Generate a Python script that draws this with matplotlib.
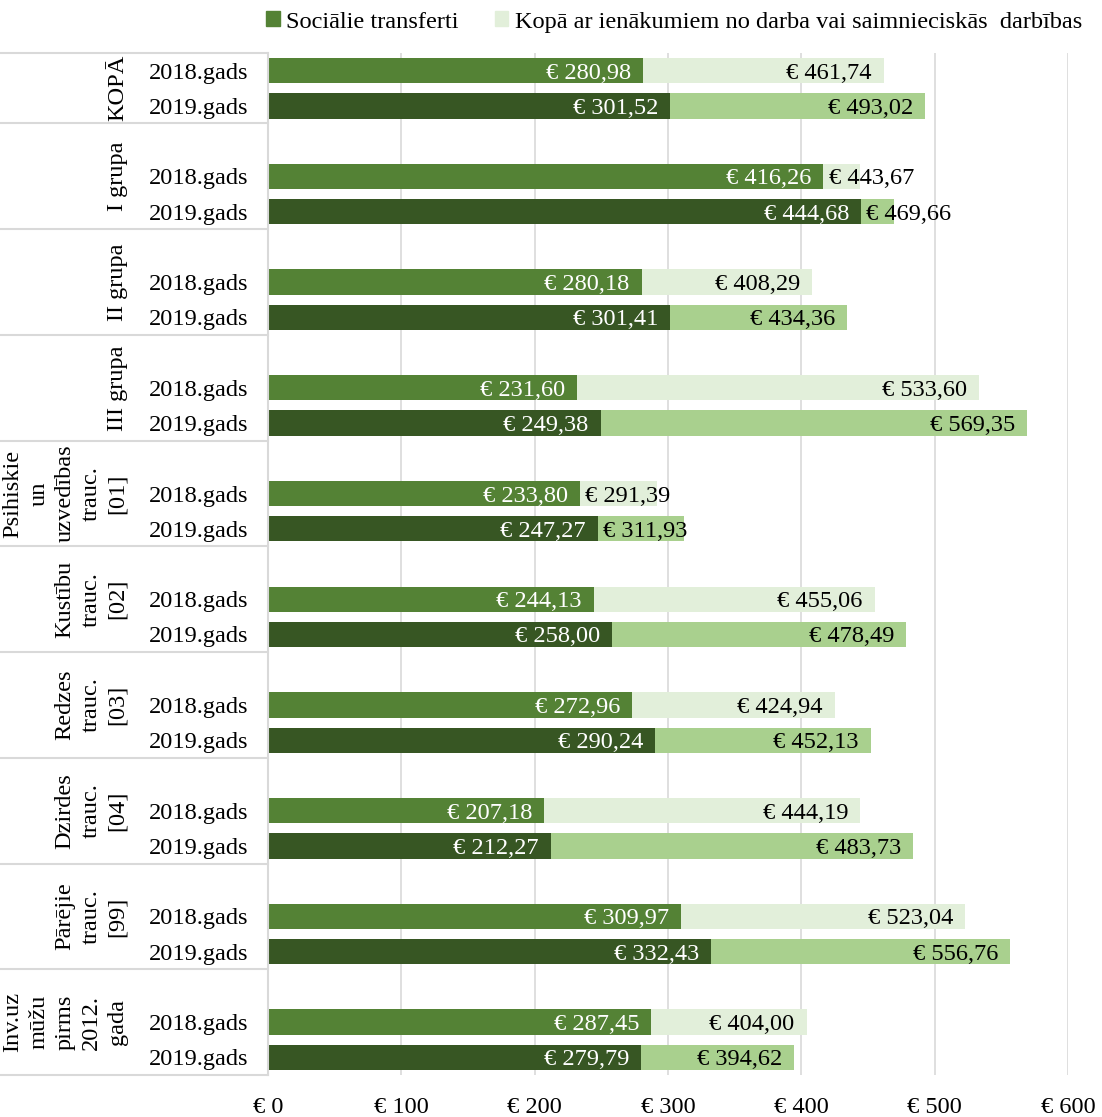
import numpy as np
import matplotlib.pyplot as plt
from matplotlib.patches import Patch
from matplotlib.lines import Line2D
from matplotlib.ticker import FuncFormatter
from matplotlib.transforms import blended_transform_factory

groups = ["KOPĀ", "I grupa", "II grupa", "III grupa",
          "Psihiskie\nun\nuzvedības\ntrauc.\n[01]",
          "Kustību\ntrauc.\n[02]", "Redzes\ntrauc.\n[03]", "Dzirdes\ntrauc.\n[04]",
          "Pārējie\ntrauc.\n[99]", "Inv.uz\nmūžu\npirms\n2012.\ngada"]
years = ["2018.gads", "2019.gads"]
soc_2018 = [280.98, 416.26, 280.18, 231.60, 233.80, 244.13, 272.96, 207.18, 309.97, 287.45]
tot_2018 = [461.74, 443.67, 408.29, 533.60, 291.39, 455.06, 424.94, 444.19, 523.04, 404.00]
soc_2019 = [301.52, 444.68, 301.41, 249.38, 247.27, 258.00, 290.24, 212.27, 332.43, 279.79]
tot_2019 = [493.02, 469.66, 434.36, 569.35, 311.93, 478.49, 452.13, 483.73, 556.76, 394.62]
legend_labels = ["Sociālie transferti", "Kopā ar ienākumiem no darba vai saimnieciskās  darbības"]

soc_colors = ["#548235", "#375623"]
tot_colors = ["#E2EFDA", "#A9D08E"]
grid_col = "#D9D9D9"

plt.rcParams['font.family'] = ['Liberation Serif', 'DejaVu Serif']
FS = 17.6

W, H = 1102, 1117
fig = plt.figure(figsize=(W / 100, H / 100), dpi=100)
ax = fig.add_axes([268 / W, 1 - 1075 / H, 800 / W, (1075 - 53) / H])

def eur(v):
    return f"€ {v:.2f}".replace(".", ",")

n = len(groups)
bh = 0.72
ticks, tick_labels = [], []
for yi, (soc, tot) in enumerate([(soc_2018, tot_2018), (soc_2019, tot_2019)]):
    pos = np.arange(n) * 3 + 1.5 + yi
    ax.barh(pos, tot, height=bh, color=tot_colors[yi], zorder=2)
    ax.barh(pos, soc, height=bh, color=soc_colors[yi], zorder=3)
    for p, s, t in zip(pos, soc, tot):
        ax.annotate(eur(s), (s, p), xytext=(-8.6, 0), textcoords="offset points",
                    ha="right", va="center_baseline", color="white", fontsize=FS, zorder=4)
        if t - s < 90:
            ax.annotate(eur(t), (s, p), xytext=(4, 0), textcoords="offset points",
                        ha="left", va="center_baseline", color="black", fontsize=FS, zorder=4)
        else:
            ax.annotate(eur(t), (t, p), xytext=(-8.6, 0), textcoords="offset points",
                        ha="right", va="center_baseline", color="black", fontsize=FS, zorder=4)
    ticks += list(pos)
    tick_labels += [years[yi]] * n

ax.set_yticks(ticks)
ax.set_yticklabels(tick_labels, fontsize=FS)
ax.tick_params(axis="y", length=0, pad=14)
ax.set_ylim(30, 1)
ax.set_xlim(0, 600)
ax.set_xticks(range(0, 601, 100))
ax.xaxis.set_major_formatter(FuncFormatter(lambda v, _: f"€ {int(v)}"))
ax.tick_params(axis="x", length=0, pad=16, labelsize=FS)
ax.grid(axis="x", color=grid_col, linewidth=1.2, zorder=0)
ax.set_axisbelow(True)
for sp in ax.spines.values():
    sp.set_visible(False)

# category table on the left
tr = blended_transform_factory(fig.transFigure, ax.transData)
for y in [1] + [3 * (g + 1) for g in range(n)]:
    fig.add_artist(Line2D([0, 268 / W], [y, y], transform=tr, color=grid_col, linewidth=1.5))
fig.add_artist(Line2D([268 / W, 268 / W], [1, 30], transform=tr, color=grid_col, linewidth=1.5))

for g, name in enumerate(groups):
    yc = 2 if g == 0 else 3 * g + 1.5
    ax.text(-140 / 800, yc, name, transform=ax.get_yaxis_transform(), rotation=90,
            ha="right", va="center", multialignment="center", fontsize=FS, linespacing=1.32)

handles = [Patch(color=soc_colors[0]), Patch(color=tot_colors[0])]
fig.legend(handles, legend_labels, loc="center", bbox_to_anchor=(674 / W, 1 - 22 / H), ncol=2,
           frameon=False, fontsize=FS, handlelength=0.55, handleheight=0.55,
           handletextpad=0.25, columnspacing=1.5)

fig.savefig("out.png", dpi=100)
